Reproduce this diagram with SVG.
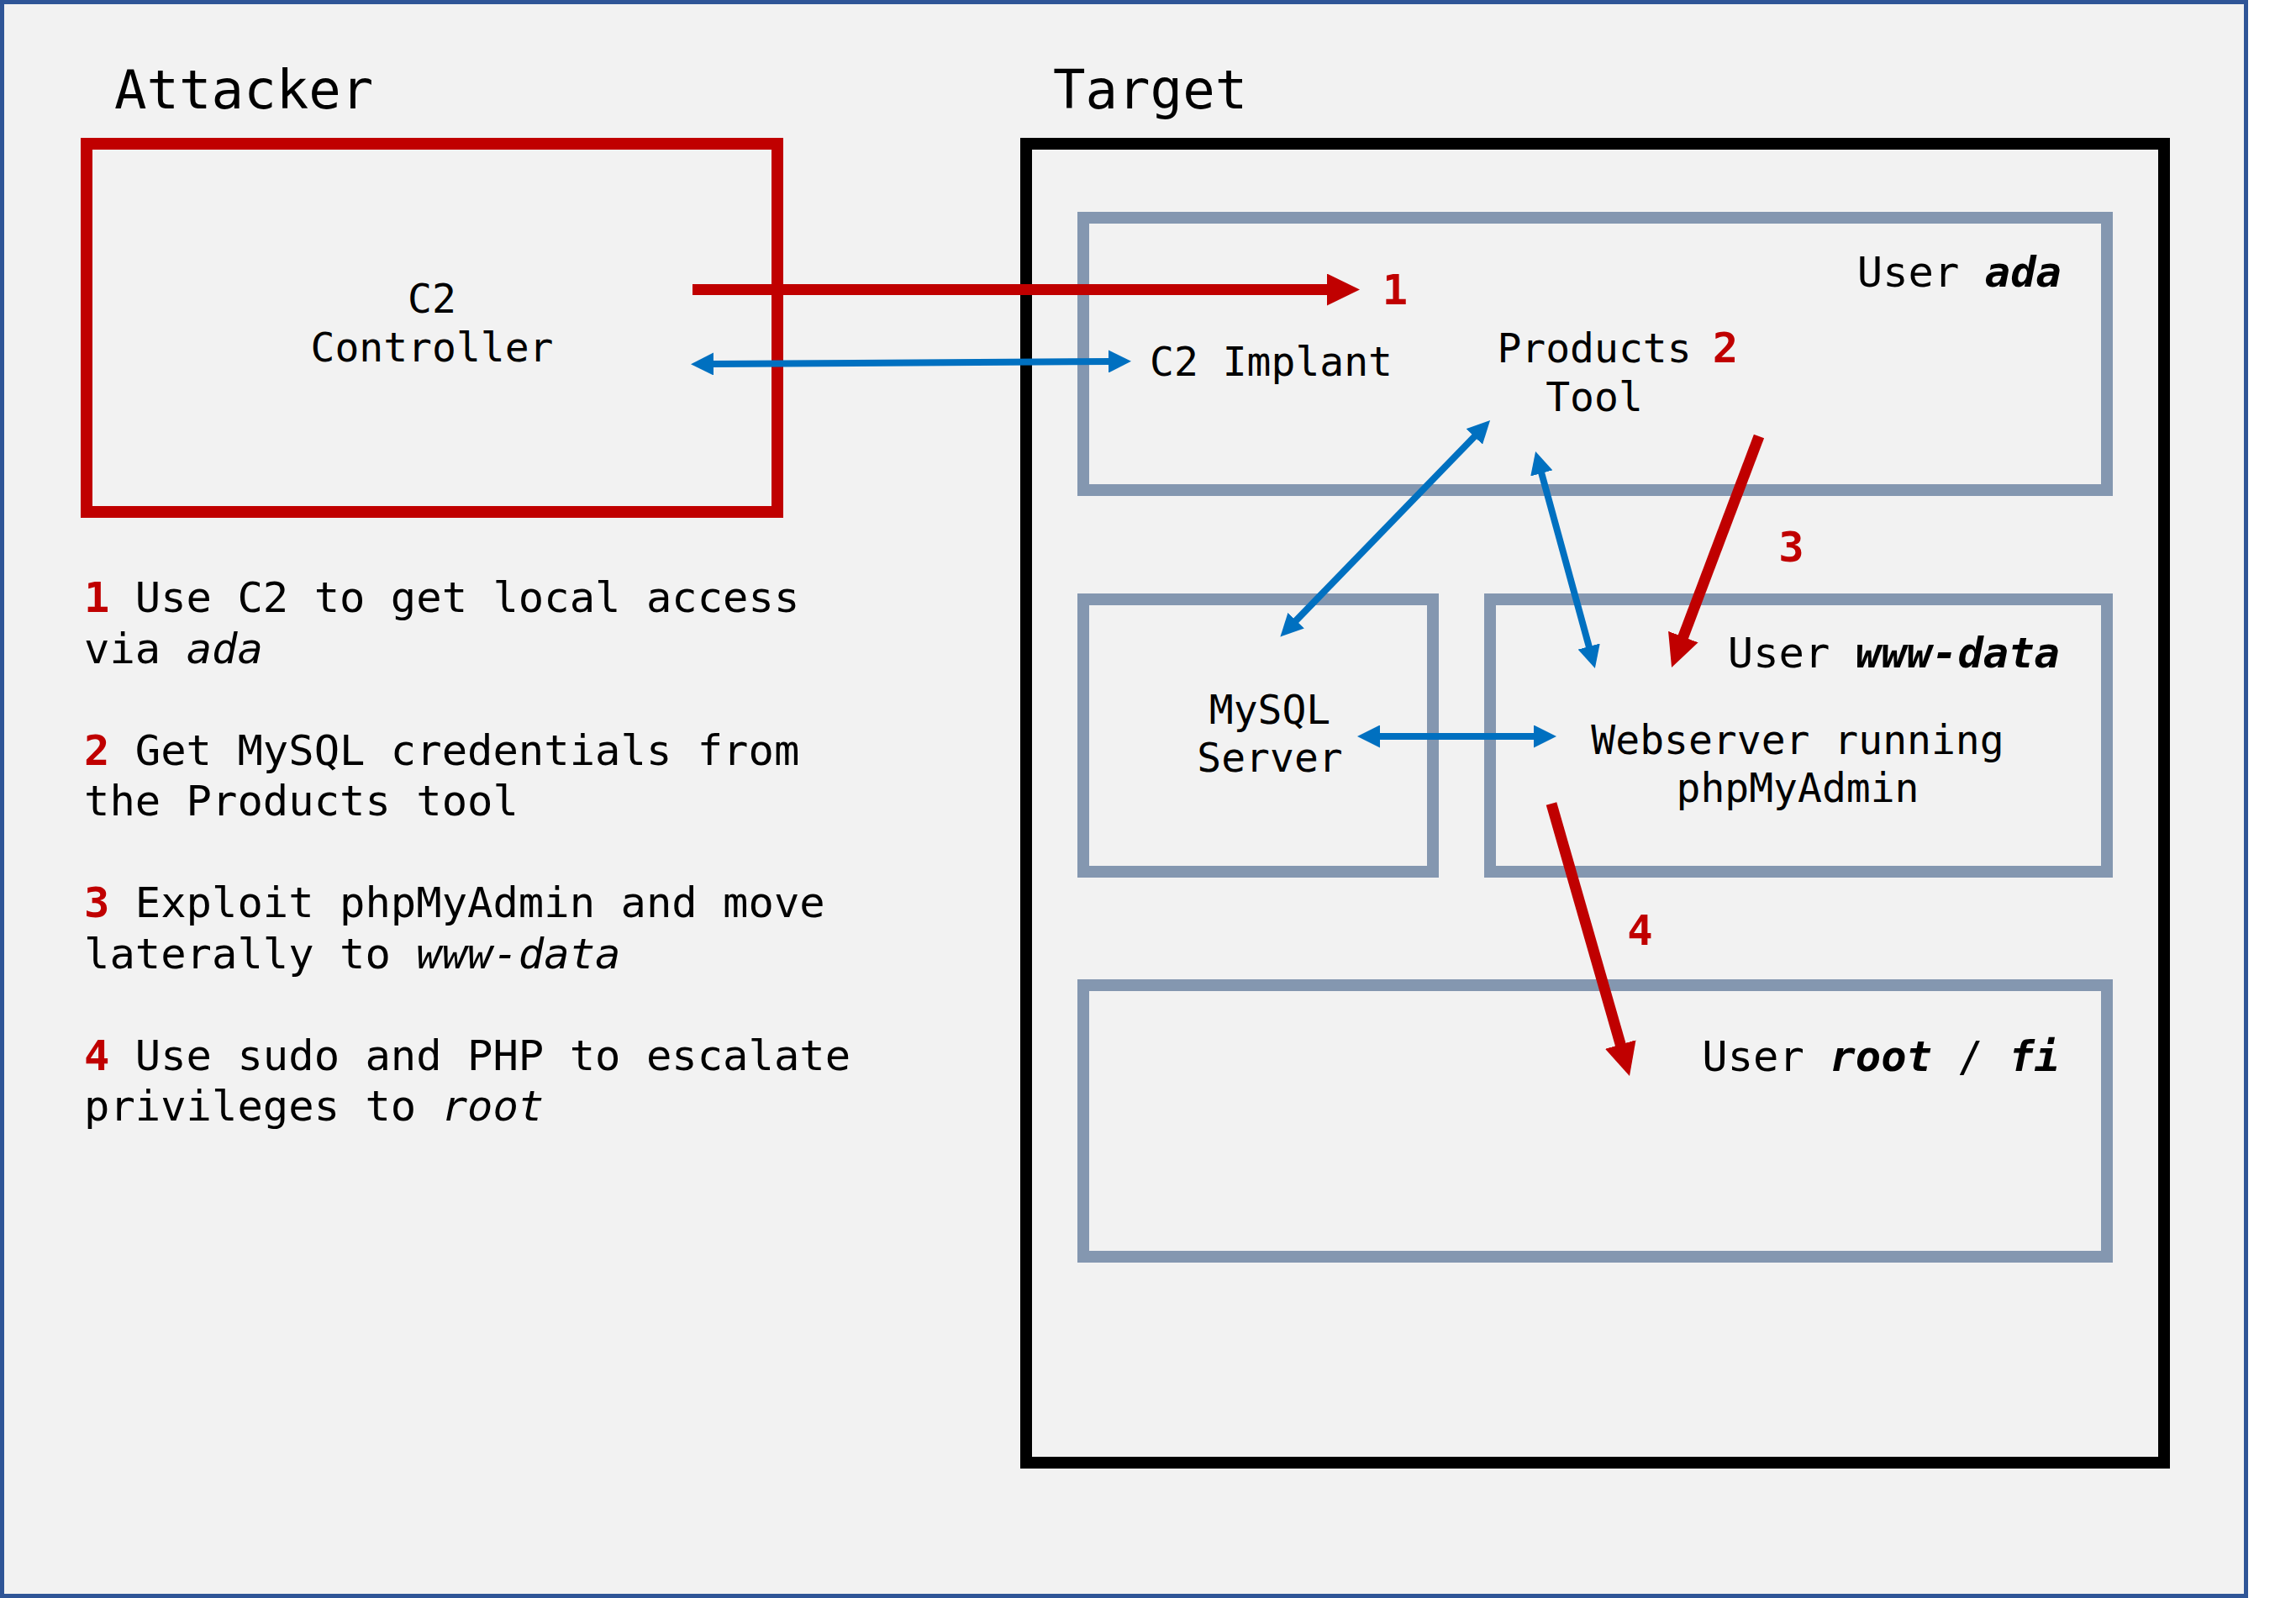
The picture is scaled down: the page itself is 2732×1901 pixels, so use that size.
<svg xmlns="http://www.w3.org/2000/svg" width="2732" height="1901" viewBox="0 0 2732 1901">
<style>
text { font-family: "DejaVu Sans Mono", "Liberation Mono", monospace; fill: #000; }
.title { font-size: 64px; }
.lbl { font-size: 48px; }
.txt { font-size: 50.5px; }
.num { font-weight: bold; fill: #C00000; }
.bi { font-weight: bold; font-style: italic; }
.it { font-style: italic; }
.grey { fill: none; stroke: #8497B0; stroke-width: 14; }
.red { fill: none; stroke: #C00000; stroke-width: 13; }
.blue { fill: none; stroke: #0070C0; stroke-width: 8; }
</style>
<defs>
<marker id="hr" markerUnits="userSpaceOnUse" markerWidth="39" markerHeight="38" viewBox="0 0 39 38" refX="1" refY="19" orient="auto-start-reverse"><path d="M0,0 L39,19 L0,38 z" fill="#C00000"/></marker>
<marker id="hb" markerUnits="userSpaceOnUse" markerWidth="27" markerHeight="27" viewBox="0 0 27 27" refX="1" refY="13.5" orient="auto-start-reverse"><path d="M0,0 L27,13.5 L0,27 z" fill="#0070C0"/></marker>
</defs>
<rect x="0" y="0" width="2732" height="1901" fill="#FFFFFF"/>
<rect x="2.5" y="2.5" width="2670" height="1896" fill="#F2F2F2" stroke="#2F5597" stroke-width="5"/>

<text class="title" x="136" y="129">Attacker</text>
<text class="title" x="1253" y="129">Target</text>

<g id="attacker">
<rect x="103" y="171" width="822" height="438" fill="none" stroke="#C00000" stroke-width="14"/>
<text class="lbl" text-anchor="middle" x="514" y="372">C2</text>
<text class="lbl" text-anchor="middle" x="514" y="430">Controller</text>
</g>

<g id="target">
<rect x="1221" y="171" width="1354" height="1569" fill="none" stroke="#000000" stroke-width="14"/>
</g>

<g id="user-ada">
<rect class="grey" x="1289" y="259" width="1218" height="324"/>
<text class="txt" text-anchor="end" x="2453" y="341">User <tspan class="bi">ada</tspan></text>
</g>

<g id="c2-implant">
<text class="lbl" x="1368" y="447">C2 Implant</text>
</g>

<g id="products-tool">
<text class="lbl" text-anchor="middle" x="1897" y="431">Products</text>
<text class="lbl" text-anchor="middle" x="1897" y="489">Tool</text>
<text class="txt num" text-anchor="middle" x="2053" y="431">2</text>
</g>

<g id="mysql">
<rect class="grey" x="1289" y="713" width="416" height="324"/>
<text class="lbl" text-anchor="middle" x="1511" y="861">MySQL</text>
<text class="lbl" text-anchor="middle" x="1511" y="918">Server</text>
</g>

<g id="www-data">
<rect class="grey" x="1773" y="713" width="734" height="324"/>
<text class="txt" text-anchor="end" x="2451" y="794">User <tspan class="bi">www-data</tspan></text>
<text class="lbl" text-anchor="middle" x="2139" y="897">Webserver running</text>
<text class="lbl" text-anchor="middle" x="2139" y="954">phpMyAdmin</text>
</g>

<g id="root">
<rect class="grey" x="1289" y="1172" width="1218" height="323"/>
<text class="txt" text-anchor="end" x="2451" y="1274">User <tspan class="bi">root</tspan> / <tspan class="bi">fi</tspan></text>
</g>

<g id="steps">
<text class="txt" x="100" y="728"><tspan class="num">1</tspan> Use C2 to get local access</text>
<text class="txt" x="100" y="788.5">via <tspan class="it">ada</tspan></text>
<text class="txt" x="100" y="909.5"><tspan class="num">2</tspan> Get MySQL credentials from</text>
<text class="txt" x="100" y="970">the Products tool</text>
<text class="txt" x="100" y="1091"><tspan class="num">3</tspan> Exploit phpMyAdmin and move</text>
<text class="txt" x="100" y="1151.5">laterally to <tspan class="it">www-data</tspan></text>
<text class="txt" x="100" y="1272.5"><tspan class="num">4</tspan> Use sudo and PHP to escalate</text>
<text class="txt" x="100" y="1333">privileges to <tspan class="it">root</tspan></text>
</g>

<g id="connectors">
<path class="red" d="M824,344.5 L1580,344.5" marker-end="url(#hr)"/>
<path class="blue" d="M848,433 L1320,430" marker-start="url(#hb)" marker-end="url(#hb)"/>
<path class="blue" d="M1755,518.7 L1541.5,738.9" marker-start="url(#hb)" marker-end="url(#hb)"/>
<path class="blue" d="M1834,562 L1891,770" marker-start="url(#hb)" marker-end="url(#hb)"/>
<path class="blue" d="M1641,876 L1826,876" marker-start="url(#hb)" marker-end="url(#hb)"/>
<path class="red" d="M2093,519 L2002.5,758.5" marker-end="url(#hr)"/>
<path class="red" d="M1846,956 L1928.5,1243.5" marker-end="url(#hr)"/>
<text class="txt num" text-anchor="middle" x="1660" y="362">1</text>
<text class="txt num" text-anchor="middle" x="2131.5" y="668">3</text>
<text class="txt num" text-anchor="middle" x="1951.5" y="1124">4</text>
</g>
</svg>
